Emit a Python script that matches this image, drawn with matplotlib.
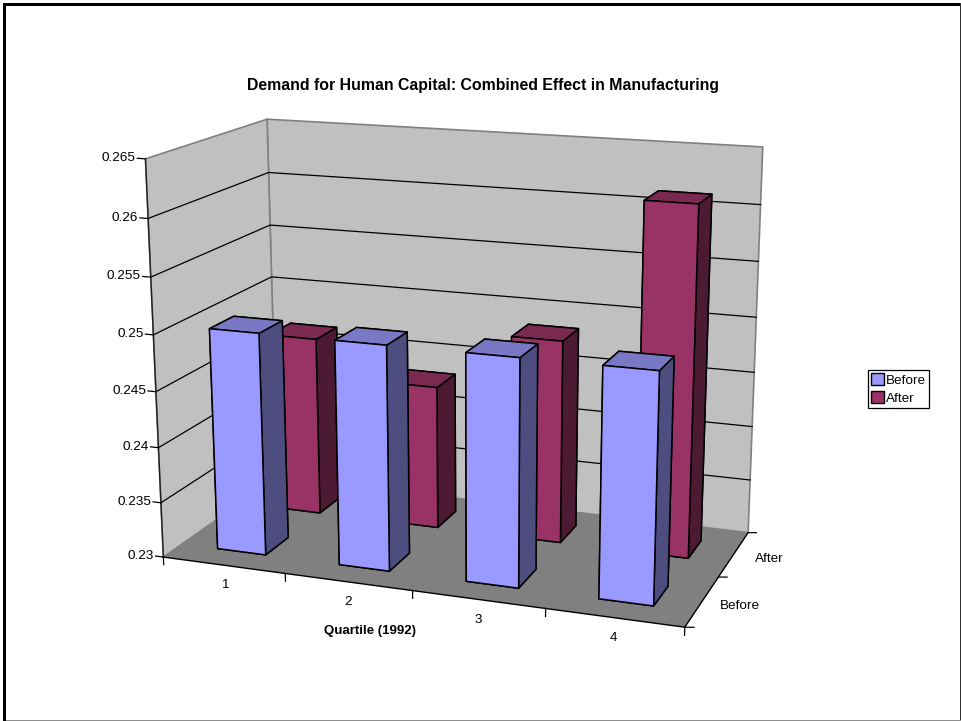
#!/usr/bin/env python
import numpy as np
import matplotlib
matplotlib.use('Agg')
import matplotlib.pyplot as plt
from matplotlib.patches import Patch, Rectangle
from mpl_toolkits.mplot3d.art3d import Poly3DCollection

W, H = 961, 721

quartiles = ['1', '2', '3', '4']
rows = ['Before', 'After']
before = [0.2500, 0.2500, 0.2500, 0.2500]
after = [0.2466, 0.2432, 0.2485, 0.2613]
z_ticks = [0.23, 0.235, 0.24, 0.245, 0.25, 0.255, 0.26, 0.265]
z_labels = ['0.23', '0.235', '0.24', '0.245', '0.25', '0.255', '0.26', '0.265']

Z0, Z1 = z_ticks[0], z_ticks[-1]
NX, NY = len(quartiles), len(rows)

plt.rcParams['font.family'] = ['Liberation Sans', 'DejaVu Sans']

# camera fit: box corners (x, y, z) and where they land in pixels
cam_world = [(0, 0, Z0), (4, 0, Z0), (4, 2, Z0), (0, 2, Z0),
             (0, 0, Z1), (0, 2, Z1), (4, 2, Z1),
             (0, 0, 0.25), (0, 2, 0.25), (4, 2, 0.25)]
cam_pixel = [(163, 557), (685, 627), (748, 533), (278, 477),
             (146, 159), (267, 119), (763, 147),
             (153, 335), (271, 277), (756, 317)]


def fit_camera(world, pixel):
    # plain DLT, z rescaled to 0..1 so the system is not badly conditioned
    A, b = [], []
    for (x, y, z), (u, v) in zip(world, pixel):
        A.append([x, y, z, 1, 0, 0, 0, 0, -u*x, -u*y, -u*z])
        A.append([0, 0, 0, 0, x, y, z, 1, -v*x, -v*y, -v*z])
        b += [u, v]
    p = np.linalg.lstsq(np.array(A), np.array(b), rcond=None)[0]
    return np.append(p, 1).reshape(3, 4)


fig = plt.figure(figsize=(W/100, H/100), dpi=100, facecolor='white')
ax = fig.add_axes([0, 0, 1, 1], projection='3d', computed_zorder=False, proj_type='ortho')
ax.apply_aspect = lambda position=None: None
ax.set_axis_off()
ax.set_xticks([]); ax.set_yticks([]); ax.set_zticks([])
ax.xaxis.set_visible(False); ax.yaxis.set_visible(False); ax.zaxis.set_visible(False)

zscale = Z1 - Z0
P = fit_camera([(x, y, (z - Z0)/zscale) for x, y, z in cam_world], cam_pixel)

# pixels to 2d view coordinates
x0, x1 = ax.viewLim.intervalx
y0, y1 = ax.viewLim.intervaly
to_view = np.array([[(x1 - x0)/W, 0, x0],
                    [0, -(y1 - y0)/H, y1],
                    [0, 0, 1]])
Pv = to_view @ P
Pv = Pv @ np.array([[1, 0, 0, 0], [0, 1, 0, 0],
                    [0, 0, 1/zscale, -Z0/zscale], [0, 0, 0, 1]])
depth = np.array([-0.15, 1, -0.3/zscale, 1 + 0.3*Z0/zscale])
M = np.vstack([Pv[0], Pv[1], depth, Pv[2]])
ax.get_proj = lambda: M

GRID = '#000000'
EDGE = '#808080'
WALL = '#c0c0c0'
FLOOR = '#808080'

# walls and floor
left_wall = [(0, 0, Z0), (0, NY, Z0), (0, NY, Z1), (0, 0, Z1)]
back_wall = [(0, NY, Z0), (NX, NY, Z0), (NX, NY, Z1), (0, NY, Z1)]
floor = [(0, 0, Z0), (NX, 0, Z0), (NX, NY, Z0), (0, NY, Z0)]
ax.add_collection3d(Poly3DCollection([left_wall, back_wall], facecolors=WALL,
                                     edgecolors=EDGE, linewidths=1.2, zorder=1))
for z in z_ticks[1:-1]:
    ax.plot([0, 0, NX], [0, NY, NY], [z, z, z], color=GRID, lw=0.9, zorder=1.1)
ax.add_collection3d(Poly3DCollection([floor], facecolors=FLOOR, edgecolors='none', zorder=1.2))

# axis lines and ticks
ax.plot([0, 0], [0, 0], [Z0, Z1], color='#202020', lw=1, zorder=1.3)
ax.plot([0, NX, NX], [0, 0, NY], [Z0, Z0, Z0], color='k', lw=1, zorder=1.3)
for z, s in zip(z_ticks, z_labels):
    ax.plot([-0.065, 0], [0, 0], [z, z], color='k', lw=0.9, zorder=1.3)
    ax.text(-0.08, 0, z, s, ha='right', va='center', fontsize=9.7, zorder=5)
for i in range(NX + 1):
    ax.plot([i, i], [0, 0], [Z0, Z0 - 0.0007], color='k', lw=0.9, zorder=1.3)
for j in range(NY + 1):
    ax.plot([NX, NX + 0.06], [j, j + 0.02], [Z0, Z0], color='k', lw=0.9, zorder=1.3)
for i, s in enumerate(quartiles):
    ax.text(i + 0.5, 0, Z0 - 0.0018, s, ha='center', va='center', fontsize=9.7, zorder=5)
for j, s in enumerate(rows):
    ax.text(NX + 0.27, j + 0.5, Z0, s, ha='center', va='center', fontsize=9.7, zorder=5)

# bars, back row first
bw, bd = 0.4, 0.4
xs = np.arange(NX) + (1 - bw)/2
series = [(after, 1, ['#4d1a33', '#7a2951', '#993366', '#993366', '#4d1a33', '#4d1a33'], 2),
          (before, 0, ['#4d4d80', '#7878c4', '#9999ff', '#9999ff', '#4d4d80', '#4d4d80'], 3)]
for vals, row, cols, zo in series:
    ys = np.full(NX, row + (1 - bd)/2)
    heights = np.array(vals) - Z0
    # bar3d order: bottom, top, front, back, left, right
    ax.bar3d(xs, ys, np.full(NX, Z0), bw, bd, heights, color=cols*NX, shade=False,
             edgecolor='k', linewidth=1.1, zorder=zo)

fig.text(483/W, 1 - 85.5/H, 'Demand for Human Capital: Combined Effect in Manufacturing',
         ha='center', va='center', fontsize=11.45, fontweight='bold')
fig.text(369.5/W, 1 - 631/H, 'Quartile (1992)', ha='center', va='center',
         fontsize=9.5, fontweight='bold')

handles = [Patch(facecolor='#9999ff', edgecolor='k', label='Before'),
           Patch(facecolor='#993366', edgecolor='k', label='After')]
leg = fig.legend(handles=handles, loc='center', bbox_to_anchor=(898.5/W, 1 - 389/H),
                 fontsize=9.7, frameon=True, fancybox=False, edgecolor='k', framealpha=1,
                 borderpad=0.28, labelspacing=0.35, handlelength=0.9, handleheight=0.9,
                 handletextpad=0.15, borderaxespad=0)
leg.get_frame().set_linewidth(0.9)

# sheet outline
fig.add_artist(Rectangle((3/W, 1 - 6/H), 1, 3/H, transform=fig.transFigure, color='k', lw=0))
fig.add_artist(Rectangle((3/W, 0), 3/W, 1 - 3/H, transform=fig.transFigure, color='k', lw=0))
fig.add_artist(Rectangle((959.5/W, 0), 1.5/W, 1 - 3/H, transform=fig.transFigure, color='#303030', lw=0))
fig.add_artist(Rectangle((6/W, 0), 1, 1.2/H, transform=fig.transFigure, color='#909090', lw=0))

fig.savefig('out.png', dpi=100)
